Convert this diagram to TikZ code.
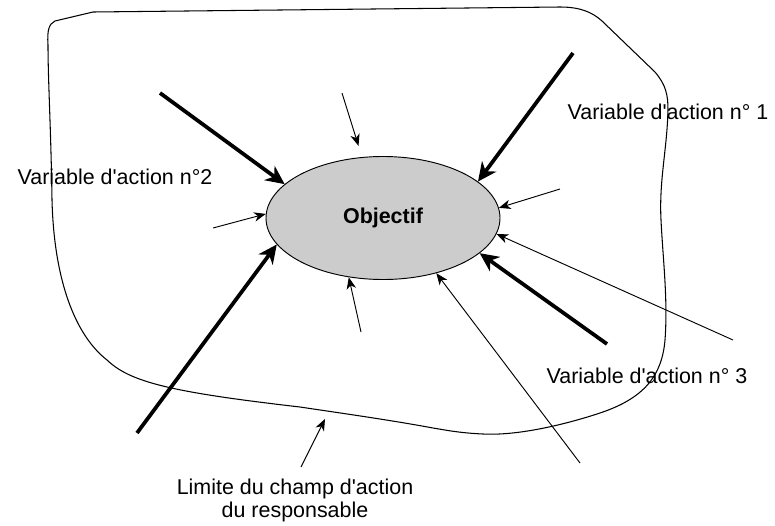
\documentclass[tikz,border=0pt]{standalone}
\usepackage{fontspec}
\setmainfont{Liberation Sans}
\usetikzlibrary{arrows.meta,shapes.geometric}

\begin{document}
\begin{tikzpicture}[x=0.03cm, y=-0.03cm, font=\fontsize{18.3}{19.5}\selectfont,
  gros/.style={line width=3.2pt, -{Stealth[length=16pt, width=15pt, inset=5pt]}},
  fin/.style={line width=0.8pt, -{Stealth[length=10pt, width=8pt, inset=3pt]}},
  limite/.style={line width=0.9pt},
  objectif/.style={shape=ellipse, draw, line width=0.8pt, fill=gray!40, minimum width=7.02cm, minimum height=3.69cm, inner sep=0pt}]
\useasboundingbox (0,0) rectangle (775,526);

% Limite du champ d'action
\draw[limite] (93,12) -- (560,7) .. controls (580,7) and (592,12) .. (602,21)
  -- (655,72) .. controls (666,85) and (668,95) .. (668,110)
  .. controls (667,150) and (659,180) .. (661,220)
  .. controls (663,260) and (668,300) .. (665,340)
  .. controls (662,375) and (645,398) .. (600,413)
  .. controls (570,423) and (520,436) .. (483,434)
  .. controls (460,433) and (445,430) .. (433,428)
  .. controls (390,420) and (340,413) .. (300,407)
  .. controls (170,392) and (130,382) .. (107,360)
  .. controls (75,335) and (54,280) .. (52,200)
  .. controls (51,130) and (48,80) .. (48,45)
  .. controls (47,30) and (49,24) .. (55,21) -- cycle;

\node[objectif] (obj) at (383,218) {\textbf{Objectif}};

% Variables d'action
\node[anchor=base] (var1) at (668,119) {Variable d\textquotesingle action n° 1};
\node[anchor=base] (var2) at (115,184) {Variable d\textquotesingle action n°2};
\node[anchor=base] (var3) at (647,383) {Variable d\textquotesingle action n° 3};
\node[anchor=base, align=center] (lim) at (295,517) {Limite du champ d\textquotesingle action\\du responsable};

% grosses fleches
\coordinate (g1) at (573,53);
\coordinate (g2) at (160,93);
\coordinate (g3) at (137,433);
\coordinate (g4) at (607,344);
\draw[gros] (g1) -- (obj.21);
\draw[gros] (g2) -- (obj.161);
\draw[gros] (g3) -- (obj.194);
\draw[gros] (g4) -- (obj.340);

% petites fleches
\coordinate (f1) at (342,93);
\coordinate (f2) at (213,228);
\coordinate (f3) at (560,189);
\coordinate (f4) at (733,340);
\coordinate (f5) at (361,332);
\coordinate (f6) at (580,463);
\draw[fin, shorten >=10pt] (f1) -- (obj.109);
\draw[fin] (f2) -- (obj.178);
\draw[fin] (f3) -- (obj.5);
\draw[fin] (f4) -- (obj.352);
\draw[fin] (f5) -- (obj.240);
\draw[fin] (f6) -- (obj.314);

% vers la limite
\coordinate (l1) at (301,467);
\coordinate (l2) at (325,419);
\draw[fin] (l1) -- (l2);
\end{tikzpicture}
\end{document}
